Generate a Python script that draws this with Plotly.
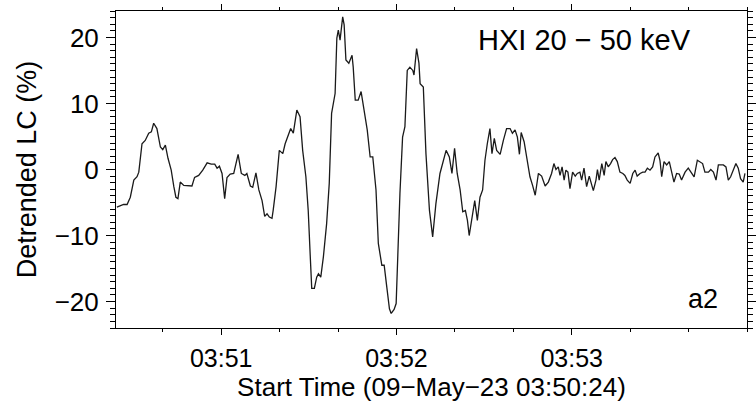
import pandas as pd
import plotly.graph_objects as go

# HXI 20-50 keV detrended light curve, time in seconds after the start time
start_time = "2023-05-09 03:50:24"
end_time = "2023-05-09 03:54:00"
t_sec = [0.3, 2.6, 3.8, 4.9, 6.1, 7.2, 7.8, 8.9, 10.0, 11.2, 12.1, 12.9, 14.0, 15.2, 16.0, 16.9, 17.8, 18.9, 19.8, 20.5,
         21.2, 22.0, 23.2, 24.9, 26.0, 26.9, 28.3, 29.7, 31.2, 32.6, 33.8, 34.6, 35.4, 36.3, 37.2, 38.0, 39.1, 40.3, 41.8, 42.9,
         44.1, 44.8, 46.0, 46.8, 47.9, 48.9, 50.0, 50.9, 51.7, 52.5, 53.4, 53.8, 54.8, 55.9, 57.1, 57.9, 58.6, 59.8, 60.7, 61.9,
         63.0, 63.9, 65.0, 65.8, 66.4, 67.0, 67.9, 68.7, 69.3, 70.1, 71.0, 72.1, 73.0, 73.8, 75.0, 75.6, 76.1, 76.7, 77.6, 78.1,
         78.7, 79.7, 80.8, 81.2, 81.9, 82.9, 83.9, 84.9, 86.0, 87.0, 87.9, 89.0, 89.8, 91.0, 91.8, 92.7, 93.6, 94.2, 95.2, 95.9,
         96.5, 97.2, 98.1, 98.9, 99.7, 100.6, 101.6, 102.0, 102.9, 103.7, 104.1, 105.2, 106.1, 107.3, 108.4, 109.5, 110.9, 112.0, 113.0, 114.1,
         115.0, 115.9, 116.8, 117.8, 118.7, 119.6, 120.3, 120.9, 121.9, 122.8, 123.7, 124.6, 125.5, 126.3, 127.1, 128.0, 128.7, 129.5, 130.3, 131.5,
         132.6, 133.7, 134.9, 135.7, 136.6, 137.4, 138.1, 138.7, 139.7, 140.8, 141.7, 142.6, 143.5, 144.6, 145.7, 146.9, 148.0, 149.1, 149.9, 150.6,
         151.4, 152.0, 152.7, 153.4, 154.0, 154.7, 155.4, 156.3, 157.2, 157.9, 158.8, 159.4, 160.2, 161.1, 162.0, 163.4, 164.3, 164.8, 165.4, 166.3,
         167.1, 167.7, 168.5, 169.3, 170.0, 170.8, 171.6, 172.5, 173.5, 174.2, 175.0, 176.0, 176.9, 177.7, 178.4, 179.4, 180.3, 181.1, 181.9, 182.8,
         183.7, 184.5, 185.6, 186.2, 186.8, 187.6, 188.5, 189.4, 190.2, 191.0, 191.9, 192.8, 193.6, 194.8, 195.9, 197.1, 197.9, 199.0, 199.9, 200.8,
         201.6, 202.8, 203.6, 204.5, 205.4, 206.2, 207.0, 207.9, 208.8, 209.6, 210.4, 211.3, 212.2, 213.0, 213.8, 214.7, 215.3]
lc_pct = [-5.7, -5.3, -5.3, -4.2, -1.6, -1.1, -0.4, 3.9, 4.4, 5.5, 5.7, 7.0, 6.2, 3.4, 3.0, 3.7, 1.7, -0.1, -2.6, -4.2,
          -4.4, -1.9, -2.4, -2.4, -2.5, -1.2, -0.9, -0.1, 1.0, 0.8, 0.8, 0.2, 0.5, -0.6, -4.4, -1.2, -0.7, -0.6, 2.3, -0.6,
          -0.9, -0.6, -2.5, -2.7, -0.5, -3.1, -4.7, -7.1, -6.7, -7.2, -7.4, -6.2, -2.6, 2.9, 2.4, 3.9, 4.7, 6.2, 5.5, 9.0,
          8.0, 2.9, -1.1, -6.2, -12.2, -18.0, -18.0, -16.3, -15.8, -16.3, -13.2, -8.2, -2.1, 8.5, 11.5, 19.9, 21.1, 19.6, 23.1, 21.9,
          16.6, 16.1, 17.3, 15.5, 10.5, 10.5, 11.8, 9.0, 6.0, 1.9, 1.9, -3.1, -11.2, -14.5, -14.5, -17.8, -21.1, -21.8, -21.2, -20.3,
          -12.2, -3.6, 4.9, 6.5, 15.0, 15.5, 15.0, 14.3, 18.3, 16.1, 13.0, 12.5, 2.4, -6.2, -10.2, -5.2, -0.6, 1.4, 2.9, 1.9,
          -0.6, 3.2, -0.6, -3.1, -6.4, -6.2, -7.7, -10.0, -7.2, -4.7, -7.7, -4.2, -3.1, 1.4, 3.9, 6.2, 2.4, 4.7, 2.9, 2.3,
          4.4, 6.2, 6.2, 5.5, 6.0, 4.9, 2.3, 5.6, 4.2, 1.4, -1.1, -2.4, -3.9, -0.6, -1.0, -2.5, -1.9, -0.6, 0.9, 0.0,
          0.4, -0.9, 0.4, -1.6, -0.1, -0.4, -2.9, -0.4, -1.0, -0.6, -0.4, -1.6, 0.2, -2.6, -1.0, -3.2, -1.6, 0.0, -1.6, 0.9,
          -0.9, 1.2, 0.4, 0.9, 1.5, 1.8, 1.2, -0.4, -0.6, -0.9, -1.6, -2.1, -0.6, -0.1, -1.0, -0.6, -0.4, -0.4, 0.2, -0.1,
          0.4, 1.9, 2.5, 1.4, -1.1, 1.2, 0.7, 1.2, -0.6, -1.9, -0.6, -0.7, -1.6, -0.4, 0.2, -0.6, -1.1, 1.4, 1.2, 0.9,
          -0.4, -0.4, 0.0, -0.4, -1.6, 0.7, 0.7, 0.7, 0.4, -1.6, -1.1, -0.1, 0.9, 0.2, -1.4, -1.9, -0.6]
assert len(t_sec) == len(lc_pct), (len(t_sec), len(lc_pct))

y_ticks = [-20, -10, 0, 10, 20]
x_ticks = ["03:51", "03:52", "03:53"]

t0 = pd.Timestamp(start_time)
times = t0 + pd.to_timedelta(t_sec, unit="s")

FONT = "Liberation Sans, Arial, Helvetica, sans-serif"

fig = go.Figure()
fig.add_trace(go.Scatter(x=times, y=lc_pct, mode="lines",
                         line=dict(color="#1a1a1a", width=1.3), showlegend=False))

fig.update_xaxes(
    range=[t0, pd.Timestamp(end_time)], type="date", automargin=False,
    tickvals=[pd.Timestamp(f"2023-05-09 {s}:00") for s in x_ticks], ticktext=x_ticks,
    ticks="outside", ticklen=6, tickwidth=1, tickcolor="black",
    minor=dict(ticks="outside", ticklen=3, dtick=20000, tick0="2023-05-09 03:50:00", tickcolor="black"),
    showline=True, linecolor="black", linewidth=1, mirror="ticks",
    showgrid=False, zeroline=False, ticklabelstandoff=2,
    tickfont=dict(family=FONT, size=25, color="black"),
    title=dict(text="Start Time (09\u2212May\u221223 03:50:24)", standoff=2,
               font=dict(family=FONT, size=26, color="black")),
)
fig.update_yaxes(
    range=[-24, 24], automargin=False,
    tickvals=y_ticks, ticktext=[str(v).replace("-", "\u2212") for v in y_ticks],
    ticks="outside", ticklen=9, tickwidth=1, tickcolor="black",
    minor=dict(ticks="outside", ticklen=5, dtick=1, tick0=0, tickcolor="black"),
    showline=True, linecolor="black", linewidth=1, mirror="ticks",
    showgrid=False, zeroline=False, ticklabelstandoff=2,
    tickfont=dict(family=FONT, size=26, color="black"),
    title=dict(text="Detrended LC (%)", standoff=10,
               font=dict(family=FONT, size=27, color="black")),
)

fig.add_annotation(text="HXI 20 \u2212 50 keV", xref="paper", yref="paper",
                   x=0.914, y=0.909, xanchor="right", yanchor="middle", showarrow=False,
                   font=dict(family=FONT, size=29, color="black"))
fig.add_annotation(text="a2", xref="paper", yref="paper",
                   x=0.958, y=0.0915, xanchor="right", yanchor="middle", showarrow=False,
                   font=dict(family=FONT, size=27, color="black"))

fig.update_layout(
    width=756, height=402,
    margin=dict(l=116, r=9, t=11, b=74),
    paper_bgcolor="white", plot_bgcolor="white",
)

fig.write_html("out.html")
